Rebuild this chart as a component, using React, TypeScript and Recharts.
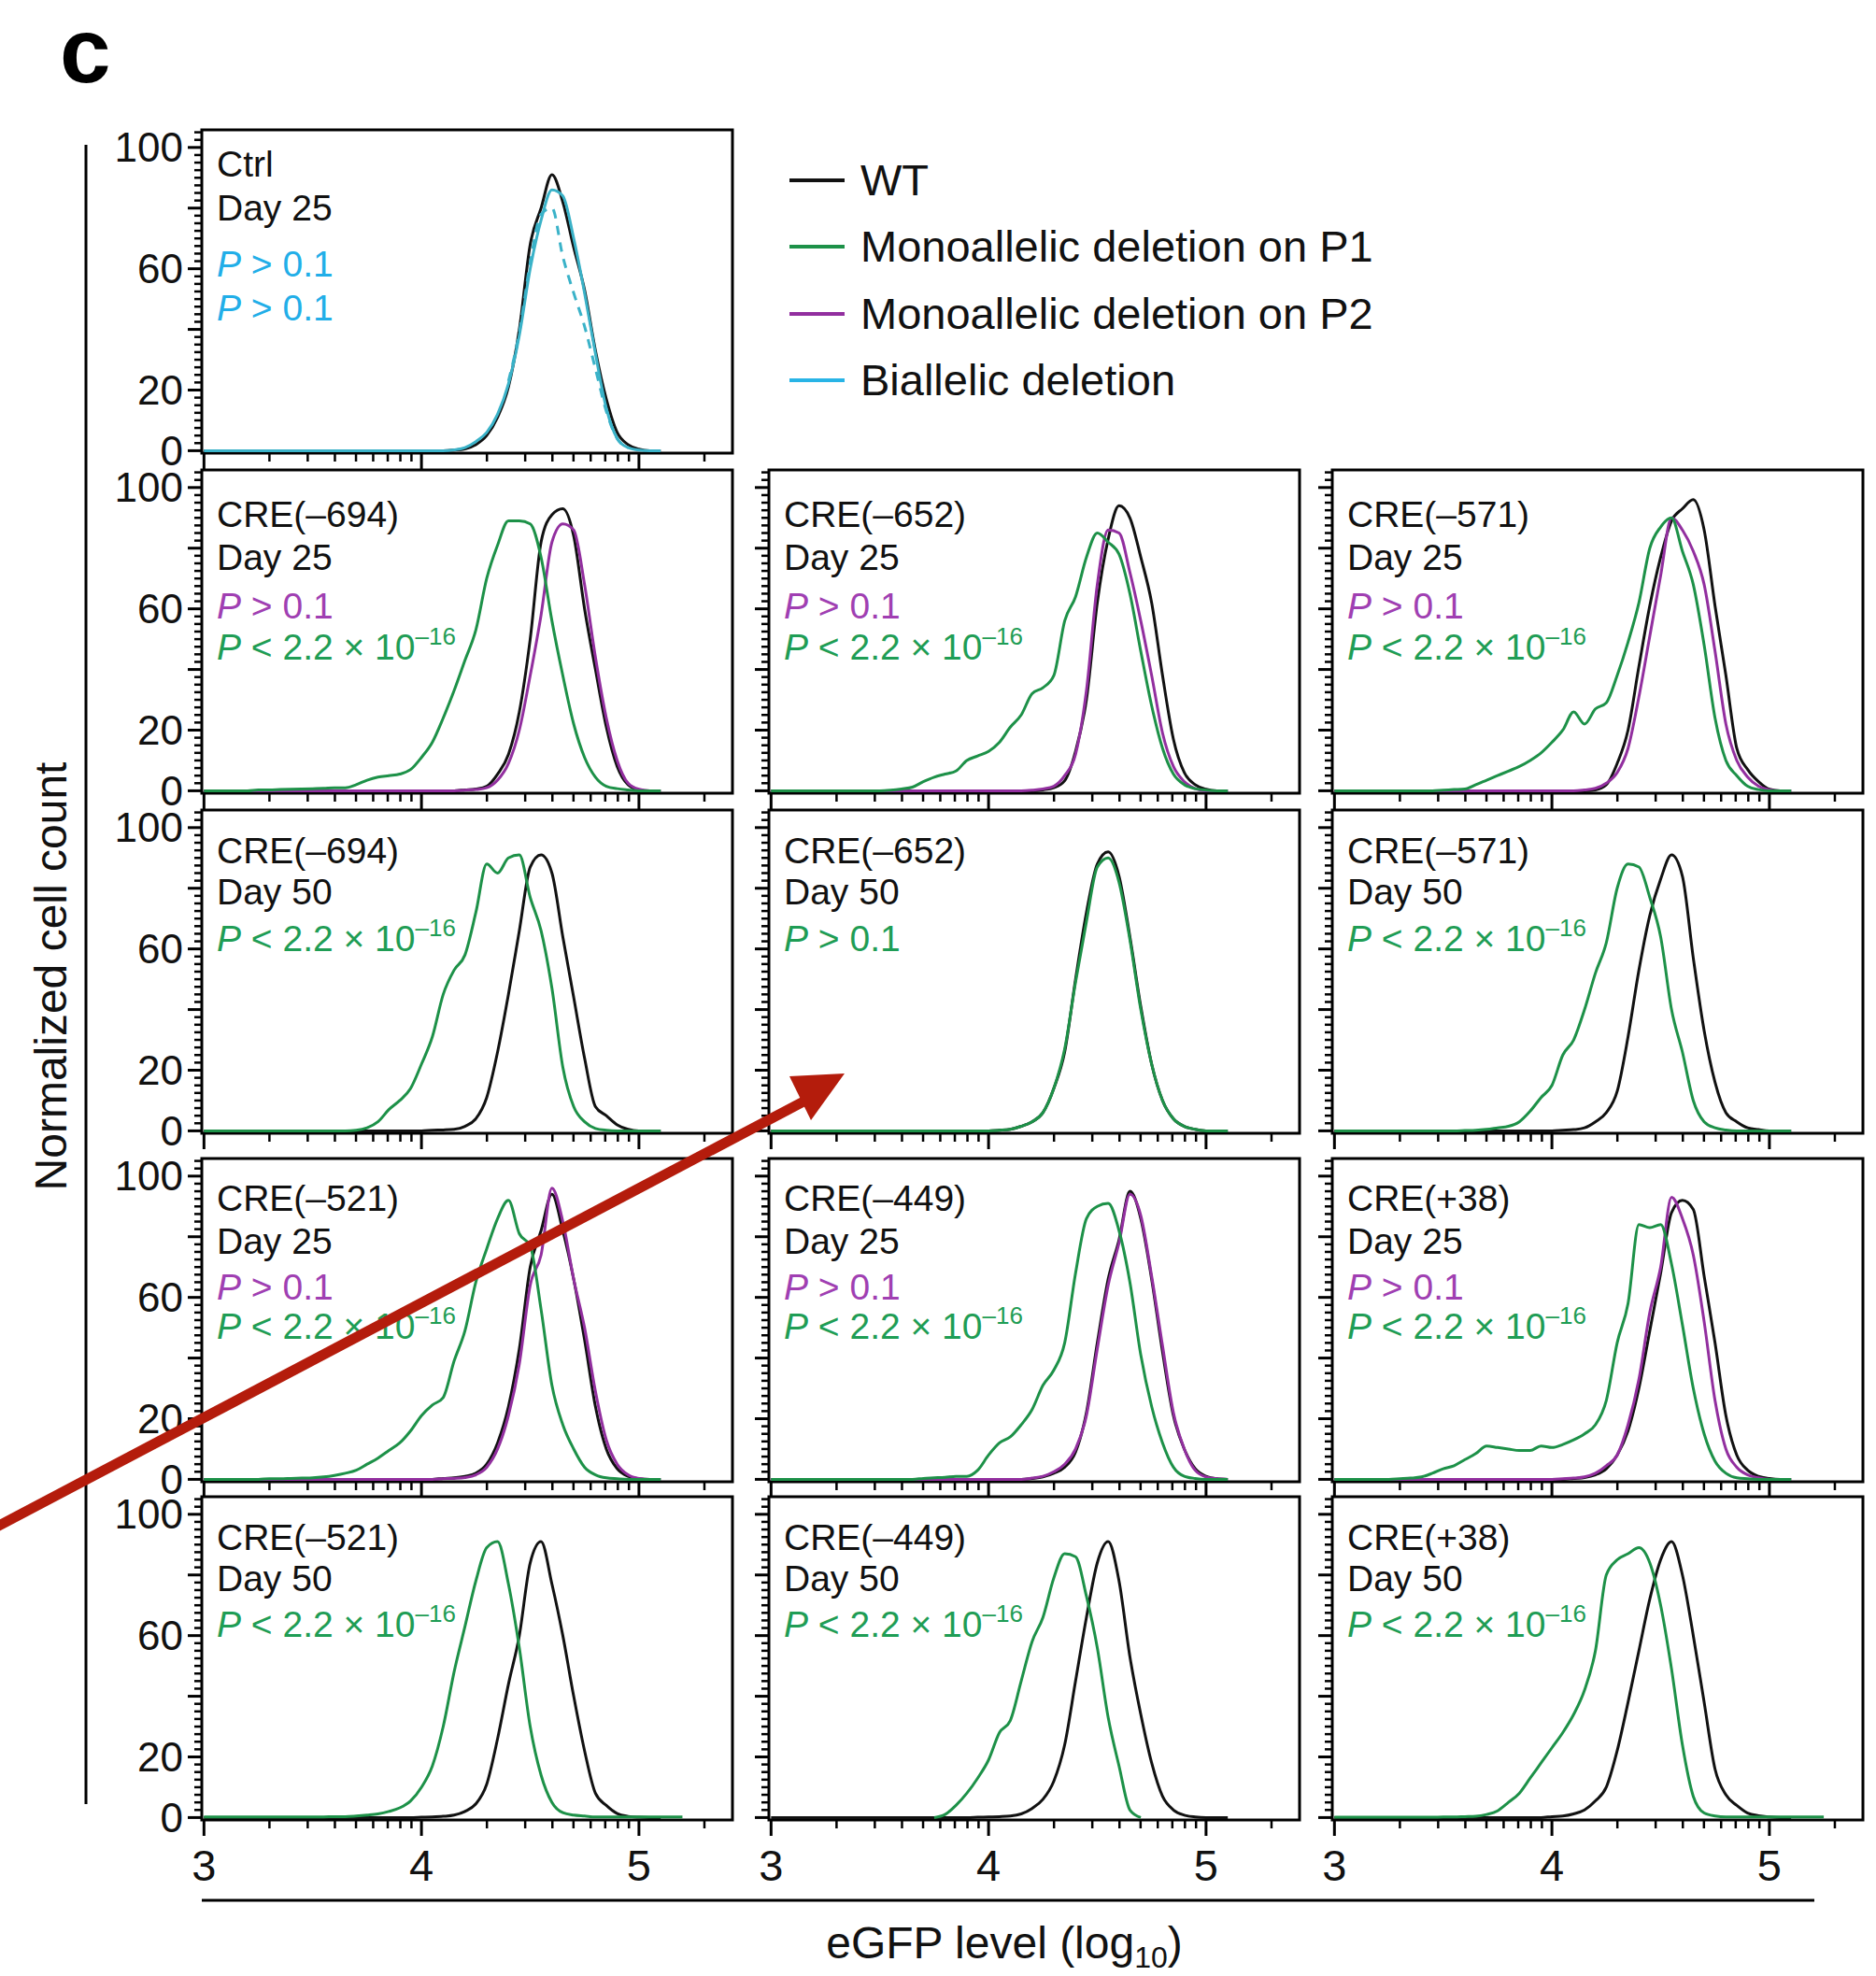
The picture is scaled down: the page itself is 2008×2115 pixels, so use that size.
import React from "react";
import { LineChart, Line, XAxis, YAxis, ReferenceArea } from "recharts";

// eGFP level (log10) grid shared by every histogram
const egfpGrid = [
  3.0, 3.05, 3.1, 3.15, 3.2, 3.25, 3.3, 3.35, 3.4, 3.45,
  3.5, 3.55, 3.6, 3.65, 3.7, 3.75, 3.8, 3.85, 3.9, 3.95,
  4.0, 4.05, 4.1, 4.15, 4.2, 4.25, 4.3, 4.35, 4.4, 4.45,
  4.5, 4.55, 4.6, 4.65, 4.7, 4.75, 4.8, 4.85, 4.9, 4.95,
  5.0, 5.05, 5.1, 5.15, 5.2, 5.25,
];

// axis ticks
const xMajorTicks = [3, 4, 5];
const xTicks = [
  3, 3.301, 3.477, 3.602, 3.699, 3.778, 3.845, 3.903, 3.954,
  4, 4.301, 4.477, 4.602, 4.699, 4.778, 4.845, 4.903, 4.954,
  5, 5.301,
];
const xTickLabels = [3, 4, 5];
const yMajorTicks = [0, 20, 40, 60, 80, 100];
const yTickLabels = [0, 20, 60, 100];
const yTicks = [
  0, 2.5, 5, 7.5, 10, 12.5, 15, 17.5, 20, 22.5, 25, 27.5, 30, 32.5, 35, 37.5,
  40, 42.5, 45, 47.5, 50, 52.5, 55, 57.5, 60, 62.5, 65, 67.5, 70, 72.5, 75,
  77.5, 80, 82.5, 85, 87.5, 90, 92.5, 95, 97.5, 100, 102.5, 105,
];

// ---- normalized cell counts ----
const ctrlD25Wt = [
  0, 0, 0, 0, 0, 0, 0, 0, 0, 0,
  0, 0, 0, 0, 0, 0, 0, 0, 0, 0,
  0, 0, 0, 0.2, 0.6, 2, 5, 11, 21, 40,
  68, 80, 91, 82, 67, 53, 33, 17, 6, 2,
  0.5, 0, 0, null, null, null,
];
const ctrlD25Bi = [
  0, 0, 0, 0, 0, 0, 0, 0, 0, 0,
  0, 0, 0, 0, 0, 0, 0, 0, 0, 0,
  0, 0, 0, 0.3, 1, 3, 6, 12, 22, 38,
  60, 76, 86, 84, 70, 52, 32, 14, 4, 1,
  0.2, 0, 0, null, null, null,
];
const ctrlD25Bi2 = [
  null, null, null, null, null, null, null, null, null, null,
  null, null, null, null, null, null, null, null, null, null,
  null, null, null, null, null, null, null, null, 23, 39,
  62, 78, 80, 64, 52, 41, 27, 13, 4, 1,
  null, null, null, null, null, null,
];

const c694D25Wt = [
  0, 0, 0, 0, 0, 0, 0, 0, 0, 0,
  0, 0, 0, 0, 0, 0, 0, 0, 0, 0,
  0, 0, 0, 0, 0.3, 0.6, 1.5, 5.5, 12, 26,
  50, 82, 91, 93, 84, 60, 40, 21, 8, 2,
  0.3, 0, 0, null, null, null,
];
const c694D25P2 = [
  0, 0, 0, 0, 0, 0, 0, 0, 0, 0,
  0, 0, 0, 0, 0, 0, 0, 0, 0, 0,
  0, 0, 0, 0, 0.2, 0.4, 1, 3.5, 9, 20,
  38, 58, 82, 88, 86, 68, 44, 24, 10, 2.5,
  0.5, 0, 0, null, null, null,
];
const c694D25P1 = [
  0, 0, 0, 0, 0, 0.3, 0.3, 0.4, 0.5, 0.6,
  0.7, 0.8, 1, 1, 2, 3.5, 4.5, 5, 5.5, 7,
  11, 16, 24, 33, 43, 53, 70, 81, 89, 89,
  88, 77, 56, 38, 22, 11, 4.5, 1.5, 0.7, 0.3,
  0, 0, 0, null, null, null,
];

const c652D25Wt = [
  0, 0, 0, 0, 0, 0, 0, 0, 0, 0,
  0, 0, 0, 0, 0, 0, 0, 0, 0, 0,
  0, 0, 0, 0, 0, 0.3, 1, 3.3, 13, 30,
  62, 83, 94, 90, 77, 62, 38, 17, 6, 2,
  0.5, 0, 0, null, null, null,
];
const c652D25P2 = [
  0, 0, 0, 0, 0, 0, 0, 0, 0, 0,
  0, 0, 0, 0, 0, 0, 0, 0, 0, 0,
  0, 0, 0, 0, 0.2, 0.6, 1.5, 5, 12, 33,
  68, 86, 85, 72, 56, 38, 19, 8, 3, 0.7,
  0, 0, 0, null, null, null,
];
const c652D25P1 = [
  0, 0, 0, 0, 0, 0, 0, 0, 0, 0,
  0, 0.2, 0.6, 1.2, 3, 4.5, 5.5, 6.5, 10, 11.5,
  13, 16, 21, 25, 32, 34, 38, 56, 64, 77,
  85, 82, 78, 65, 46, 28, 14, 5.5, 2, 0.7,
  0.2, 0, 0, null, null, null,
];

const c571D25Wt = [
  0, 0, 0, 0, 0, 0, 0, 0, 0, 0,
  0, 0, 0, 0, 0, 0, 0, 0, 0, 0,
  0, 0, 0, 0, 0.3, 2, 9, 20, 41, 61,
  77, 89, 93, 96, 86, 61, 38, 14, 7, 3,
  0.5, 0, 0, null, null, null,
];
const c571D25P2 = [
  0, 0, 0, 0, 0, 0, 0, 0, 0, 0,
  0, 0, 0, 0, 0, 0, 0, 0, 0, 0,
  0, 0, 0, 0.3, 0.8, 2.5, 6, 14, 31, 51,
  71, 90, 86, 79, 68, 46, 22, 10, 4.5, 1.5,
  0.3, 0, 0, null, null, null,
];
const c571D25P1 = [
  0, 0, 0, 0, 0, 0, 0, 0, 0, 0,
  0.2, 0.4, 0.6, 2, 3.5, 5, 6.5, 8, 10, 12.5,
  16, 20, 26, 22, 27, 29, 38, 49, 62, 80,
  87, 90, 79, 68, 48, 24, 10, 5, 1.5, 0.4,
  0, 0, 0, null, null, null,
];

const c694D50Wt = [
  0, 0, 0, 0, 0, 0, 0, 0, 0, 0,
  0, 0, 0, 0, 0, 0, 0, 0, 0, 0,
  0, 0.2, 0.3, 0.5, 1.5, 4, 11, 26, 45, 66,
  87, 91, 85, 64, 44, 24, 8, 5, 2, 0.5,
  0, 0, 0, null, null, null,
];
const c694D50P1 = [
  0, 0, 0, 0, 0, 0, 0, 0, 0, 0,
  0, 0, 0, 0, 0.2, 1, 3, 7, 10, 14,
  22, 31, 45, 53, 58, 72, 88, 85, 90, 91,
  77, 66, 47, 21, 8, 3, 0.8, 0.2, 0, 0,
  0, 0, 0, null, null, null,
];

const c652D50Wt = [
  0, 0, 0, 0, 0, 0, 0, 0, 0, 0,
  0, 0, 0, 0, 0, 0, 0, 0, 0, 0,
  0, 0.2, 0.5, 1.5, 3, 6, 14, 26, 50, 72,
  88, 92, 84, 64, 41, 22, 10, 4, 1.5, 0.5,
  0, 0, 0, null, null, null,
];
const c652D50P1 = [
  0, 0, 0, 0, 0, 0, 0, 0, 0, 0,
  0, 0, 0, 0, 0, 0, 0, 0, 0, 0,
  0, 0.2, 0.5, 1.5, 3, 6, 14, 27, 49, 69,
  87, 90, 82, 63, 40, 22, 10, 4, 1.5, 0.5,
  0, 0, 0, null, null, null,
];

const c571D50Wt = [
  0, 0, 0, 0, 0, 0, 0, 0, 0, 0,
  0, 0, 0, 0, 0, 0, 0, 0, 0, 0,
  0, 0.2, 0.4, 1, 3, 6, 13, 31, 53, 71,
  83, 91, 84, 57, 33, 16, 6, 3, 1, 0.4,
  0, 0, 0, null, null, null,
];
const c571D50P1 = [
  0, 0, 0, 0, 0, 0, 0, 0, 0, 0,
  0, 0, 0.1, 0.2, 0.5, 1, 1.5, 3, 6.5, 11,
  15, 25, 30, 40, 52, 62, 80, 88, 87, 77,
  64, 40, 26, 10, 3, 1, 0.3, 0, 0, 0,
  0, 0, 0, null, null, null,
];

const c521D25Wt = [
  0, 0, 0, 0, 0, 0, 0, 0, 0, 0,
  0, 0, 0, 0, 0, 0, 0, 0, 0, 0,
  0, 0, 0.3, 0.5, 1, 2, 5, 12, 24, 43,
  70, 82, 94, 82, 66, 46, 24, 10, 3.5, 1,
  0.2, 0, 0, null, null, null,
];
const c521D25P2 = [
  0, 0, 0, 0, 0, 0, 0, 0, 0, 0,
  0, 0, 0, 0, 0, 0, 0, 0, 0, 0,
  0, 0, 0.2, 0.3, 0.6, 1.5, 4, 10, 21, 38,
  64, 74, 96, 85, 66, 50, 29, 13, 5, 1.5,
  0.3, 0, 0, null, null, null,
];
const c521D25P1 = [
  0, 0, 0, 0, 0, 0, 0.2, 0.2, 0.3, 0.4,
  0.5, 0.8, 1.3, 2, 3, 5, 7, 9.5, 12, 16,
  21, 24.5, 27, 39, 49, 65, 76, 86, 92, 81,
  77, 56, 31, 18, 10, 4, 1.5, 0.5, 0.2, 0,
  0, 0, 0, null, null, null,
];

const c449D25Wt = [
  0, 0, 0, 0, 0, 0, 0, 0, 0, 0,
  0, 0, 0, 0, 0, 0, 0, 0, 0, 0,
  0, 0, 0, 0, 0.3, 0.8, 2, 4, 9, 22,
  45, 66, 79, 95, 86, 66, 42, 21, 10, 3.5,
  1, 0.2, 0, null, null, null,
];
const c449D25P2 = [
  0, 0, 0, 0, 0, 0, 0, 0, 0, 0,
  0, 0, 0, 0, 0, 0, 0, 0, 0, 0,
  0, 0, 0, 0, 0.4, 1, 2.5, 5, 10, 21,
  43, 64, 78, 94, 87, 67, 44, 22, 10, 3,
  0.8, 0.2, 0, null, null, null,
];
const c449D25P1 = [
  0, 0, 0, 0, 0, 0, 0, 0, 0, 0,
  0, 0, 0, 0, 0.3, 0.5, 0.7, 1, 1, 3,
  8, 12, 14, 18, 23, 31, 36, 45, 68, 86,
  90, 91, 82, 65, 41, 24, 12, 4, 1, 0.3,
  0, 0, 0, null, null, null,
];

const c38D25Wt = [
  0, 0, 0, 0, 0, 0, 0, 0, 0, 0,
  0, 0, 0, 0, 0, 0, 0, 0, 0, 0,
  0, 0, 0.3, 0.6, 1.5, 3.5, 8, 16, 30, 49,
  68, 88, 92, 89, 67, 45, 21, 8, 3, 1,
  0.3, 0, 0, null, null, null,
];
const c38D25P2 = [
  0, 0, 0, 0, 0, 0, 0, 0, 0, 0,
  0, 0, 0, 0, 0, 0, 0, 0, 0, 0,
  0, 0.2, 0.4, 0.8, 2, 4.5, 8, 18, 33, 55,
  70, 93, 86, 74, 52, 26, 10, 4, 1.5, 0.5,
  0, 0, 0, null, null, null,
];
const c38D25P1 = [
  0, 0, 0, 0, 0, 0, 0.2, 0.4, 0.8, 2,
  3.5, 4.5, 6.5, 8.5, 11, 10.5, 10, 9.5, 9.5, 11,
  10.5, 11.5, 13, 15, 18, 26, 45, 58, 84, 83,
  84, 71, 51, 30, 15, 6, 2, 0.5, 0.2, 0,
  0, 0, 0, null, null, null,
];

const c521D50Wt = [
  0, 0, 0, 0, 0, 0, 0, 0, 0, 0,
  0, 0, 0, 0, 0, 0, 0, 0, 0, 0,
  0.1, 0.2, 0.4, 0.8, 2, 4.5, 11, 26, 44, 60,
  84, 91, 77, 60, 40, 22, 8, 4, 1.3, 0.4,
  0.1, 0, 0, null, null, null,
];
const c521D50P1 = [
  0.2, 0.2, 0.2, 0.2, 0.2, 0.2, 0.2, 0.2, 0.2, 0.2,
  0.2, 0.2, 0.3, 0.3, 0.5, 0.8, 1.2, 2, 3.2, 5.5,
  10, 17, 30, 48, 63, 78, 89, 91, 77, 56,
  30, 14, 5, 1.6, 0.8, 0.5, 0.2, 0.2, 0.2, 0.2,
  0.2, 0.2, 0.2, 0.2, 0.2, null,
];

const c449D50Wt = [
  0, 0, 0, 0, 0, 0, 0, 0, 0, 0,
  0, 0, 0, 0, 0, 0, 0, 0, 0, 0.1,
  0.2, 0.3, 0.5, 1.2, 3, 6, 12, 24, 45, 66,
  84, 91, 78, 53, 34, 18, 7, 2.5, 0.8, 0.2,
  0, 0, 0, null, null, null,
];
const c449D50P1 = [
  null, null, null, null, null, null, null, null, null, null,
  null, null, null, null, null, 0, 1, 4, 8, 13,
  19, 28, 32, 45, 58, 66, 79, 87, 86, 73,
  56, 33, 17, 2.5, 0, null, null, null, null, null,
  null, null, null, null, null, null,
];

const c38D50Wt = [
  0, 0, 0, 0, 0, 0, 0, 0, 0, 0,
  0, 0, 0, 0, 0, 0, 0, 0, 0, 0,
  0.3, 0.5, 1.2, 2.5, 5.5, 10, 22, 38, 55, 72,
  85, 91, 80, 60, 38, 16, 7.5, 4, 1.5, 0.6,
  0.2, 0, 0, null, null, null,
];
const c38D50P1 = [
  0.1, 0.1, 0.1, 0.1, 0.1, 0.1, 0.1, 0.1, 0.1, 0.1,
  0.2, 0.2, 0.3, 0.4, 1, 2.2, 5, 8, 13, 18,
  23, 28, 34, 42, 55, 80, 85, 87, 89, 84,
  70, 49, 24, 7, 1.5, 0.5, 0.2, 0.2, 0.2, 0.2,
  0.2, 0.2, 0.2, 0.2, 0.2, 0.2,
];

// colours
const WT = "#111111";
const GREEN = "#1d9148";
const PURPLE = "#922f9f";
const TEAL = "#3ab2c8";
const CYAN = "#28b4e6";
const GREEN_TXT = "#1f9d55";
const PURPLE_TXT = "#a03fb2";
const CYAN_TXT = "#22aee8";
const FONT = '"Liberation Sans", Arial, Helvetica, sans-serif';

// layout (px)
const colLefts = [216, 823, 1426];
const rowTops = [139, 503, 867, 1240, 1602];
const rowTextOffsets = [
  [50, 97, 157, 204],
  [61, 107, 159, 203],
  [57, 101, 151, 195],
  [56, 102, 151, 193],
  [57, 101, 150, 195],
];
const BOX_W = 568;
const BOX_H = 346;
const Y_AXIS_W = 150;
const X_AXIS_H = 80;
const PAD_TOP = 40;
const PAD_RIGHT = 4;
const X_DOMAIN: [number, number] = [2.99, 5.43];
const Y_DOMAIN: [number, number] = [-0.8, 105.8];

type Series = { key: string; values: (number | null)[]; color: string; dash?: string };
type Note = { kind: "gt" | "lt"; color: string };
type PanelDef = {
  row: number;
  col: number;
  title: string;
  day: string;
  notes: Note[];
  series: Series[];
};

const d25Notes: Note[] = [
  { kind: "gt", color: PURPLE_TXT },
  { kind: "lt", color: GREEN_TXT },
];
const d50Notes: Note[] = [{ kind: "lt", color: GREEN_TXT }];

const panels: PanelDef[] = [
  {
    row: 0, col: 0, title: "Ctrl", day: "Day 25",
    notes: [{ kind: "gt", color: CYAN_TXT }, { kind: "gt", color: CYAN_TXT }],
    series: [
      { key: "wt", values: ctrlD25Wt, color: WT },
      { key: "bi", values: ctrlD25Bi, color: TEAL },
      { key: "bi2", values: ctrlD25Bi2, color: TEAL, dash: "10 8" },
    ],
  },
  {
    row: 1, col: 0, title: "CRE(–694)", day: "Day 25", notes: d25Notes,
    series: [
      { key: "wt", values: c694D25Wt, color: WT },
      { key: "p2", values: c694D25P2, color: PURPLE },
      { key: "p1", values: c694D25P1, color: GREEN },
    ],
  },
  {
    row: 1, col: 1, title: "CRE(–652)", day: "Day 25", notes: d25Notes,
    series: [
      { key: "wt", values: c652D25Wt, color: WT },
      { key: "p2", values: c652D25P2, color: PURPLE },
      { key: "p1", values: c652D25P1, color: GREEN },
    ],
  },
  {
    row: 1, col: 2, title: "CRE(–571)", day: "Day 25", notes: d25Notes,
    series: [
      { key: "wt", values: c571D25Wt, color: WT },
      { key: "p2", values: c571D25P2, color: PURPLE },
      { key: "p1", values: c571D25P1, color: GREEN },
    ],
  },
  {
    row: 2, col: 0, title: "CRE(–694)", day: "Day 50", notes: d50Notes,
    series: [
      { key: "wt", values: c694D50Wt, color: WT },
      { key: "p1", values: c694D50P1, color: GREEN },
    ],
  },
  {
    row: 2, col: 1, title: "CRE(–652)", day: "Day 50",
    notes: [{ kind: "gt", color: GREEN_TXT }],
    series: [
      { key: "wt", values: c652D50Wt, color: WT },
      { key: "p1", values: c652D50P1, color: GREEN },
    ],
  },
  {
    row: 2, col: 2, title: "CRE(–571)", day: "Day 50", notes: d50Notes,
    series: [
      { key: "wt", values: c571D50Wt, color: WT },
      { key: "p1", values: c571D50P1, color: GREEN },
    ],
  },
  {
    row: 3, col: 0, title: "CRE(–521)", day: "Day 25", notes: d25Notes,
    series: [
      { key: "wt", values: c521D25Wt, color: WT },
      { key: "p2", values: c521D25P2, color: PURPLE },
      { key: "p1", values: c521D25P1, color: GREEN },
    ],
  },
  {
    row: 3, col: 1, title: "CRE(–449)", day: "Day 25", notes: d25Notes,
    series: [
      { key: "wt", values: c449D25Wt, color: WT },
      { key: "p2", values: c449D25P2, color: PURPLE },
      { key: "p1", values: c449D25P1, color: GREEN },
    ],
  },
  {
    row: 3, col: 2, title: "CRE(+38)", day: "Day 25", notes: d25Notes,
    series: [
      { key: "wt", values: c38D25Wt, color: WT },
      { key: "p2", values: c38D25P2, color: PURPLE },
      { key: "p1", values: c38D25P1, color: GREEN },
    ],
  },
  {
    row: 4, col: 0, title: "CRE(–521)", day: "Day 50", notes: d50Notes,
    series: [
      { key: "wt", values: c521D50Wt, color: WT },
      { key: "p1", values: c521D50P1, color: GREEN },
    ],
  },
  {
    row: 4, col: 1, title: "CRE(–449)", day: "Day 50", notes: d50Notes,
    series: [
      { key: "wt", values: c449D50Wt, color: WT },
      { key: "p1", values: c449D50P1, color: GREEN },
    ],
  },
  {
    row: 4, col: 2, title: "CRE(+38)", day: "Day 50", notes: d50Notes,
    series: [
      { key: "wt", values: c38D50Wt, color: WT },
      { key: "p1", values: c38D50P1, color: GREEN },
    ],
  },
];

const legendItems = [
  { label: "WT", color: WT },
  { label: "Monoallelic deletion on P1", color: GREEN },
  { label: "Monoallelic deletion on P2", color: PURPLE },
  { label: "Biallelic deletion", color: CYAN },
];
const legendRowsY = [193, 264, 336, 407];

const XTick = (props: any) => {
  const { x, y, payload, showLabel } = props;
  const v = payload.value;
  const major = xMajorTicks.includes(v);
  return (
    <g>
      <line x1={x} x2={x} y1={y} y2={y + (major ? 17 : 9)} stroke="#000" strokeWidth={major ? 3 : 2.5} />
      {showLabel && xTickLabels.includes(v) && (
        <text x={x} y={y + 65} textAnchor="middle" fontSize={47} fontFamily={FONT} fill="#111">
          {v}
        </text>
      )}
    </g>
  );
};

const YTick = (props: any) => {
  const { x, y, payload, showLabel } = props;
  const v = payload.value;
  const major = yMajorTicks.includes(v);
  return (
    <g>
      <line x1={x} x2={x - (major ? 15 : 8)} y1={y} y2={y} stroke="#000" strokeWidth={major ? 3 : 2.5} />
      {showLabel && yTickLabels.includes(v) && (
        <text x={x - 20} y={y} dy="0.35em" textAnchor="end" fontSize={44} fontFamily={FONT} fill="#111">
          {v}
        </text>
      )}
    </g>
  );
};

function Panel({ def }: { def: PanelDef }) {
  const left = colLefts[def.col];
  const top = rowTops[def.row];
  const data = egfpGrid.map((x, i) => {
    const row: Record<string, number | null> = { x };
    def.series.forEach((s) => {
      row[s.key] = s.values[i];
    });
    return row;
  });
  const isBottom = def.row === 4;
  const showY = def.col === 0;

  return (
    <div style={{ position: "absolute", left: left - Y_AXIS_W, top: top - PAD_TOP }}>
      <LineChart
        width={Y_AXIS_W + BOX_W + PAD_RIGHT}
        height={PAD_TOP + BOX_H + X_AXIS_H}
        data={data}
        margin={{ top: PAD_TOP, right: PAD_RIGHT, bottom: 0, left: 0 }}
      >
        <XAxis
          dataKey="x"
          type="number"
          domain={X_DOMAIN}
          allowDataOverflow
          ticks={xTicks}
          interval={0}
          height={X_AXIS_H}
          axisLine={false}
          tickLine={false}
          tickSize={0}
          tickMargin={0}
          tick={(p: any) => <XTick {...p} showLabel={isBottom} />}
        />
        <YAxis
          type="number"
          domain={Y_DOMAIN}
          allowDataOverflow
          ticks={yTicks}
          interval={0}
          width={Y_AXIS_W}
          axisLine={false}
          tickLine={false}
          tickSize={0}
          tickMargin={0}
          tick={(p: any) => <YTick {...p} showLabel={showY} />}
        />
        <ReferenceArea
          x1={X_DOMAIN[0]}
          x2={X_DOMAIN[1]}
          y1={Y_DOMAIN[0]}
          y2={Y_DOMAIN[1]}
          fill="none"
          fillOpacity={0}
          stroke="#000"
          strokeWidth={3}
        />
        {def.series.map((s) => (
          <Line
            key={s.key}
            type="monotone"
            dataKey={s.key}
            stroke={s.color}
            strokeWidth={3}
            strokeDasharray={s.dash}
            dot={false}
            activeDot={false}
            connectNulls={false}
            isAnimationActive={false}
          />
        ))}
      </LineChart>
    </div>
  );
}

function NoteText({ x, y, note }: { x: number; y: number; note: Note }) {
  if (note.kind === "gt") {
    return (
      <text x={x} y={y} fill={note.color} fontSize={39} fontFamily={FONT} style={{ whiteSpace: "pre" }}>
        <tspan fontStyle="italic">P</tspan>
        {" > 0.1"}
      </text>
    );
  }
  return (
    <text x={x} y={y} fill={note.color} fontSize={39} fontFamily={FONT} style={{ whiteSpace: "pre" }}>
      <tspan fontStyle="italic">P</tspan>
      {" < 2.2 × 10"}
      <tspan dy={-16} fontSize={26}>
        –16
      </tspan>
    </text>
  );
}

export default function App() {
  return (
    <div
      style={{
        position: "absolute",
        left: 0,
        top: 0,
        width: 2008,
        height: 2115,
        background: "#fff",
        overflow: "hidden",
        fontFamily: FONT,
      }}
    >
      {panels.map((p, i) => (
        <Panel key={i} def={p} />
      ))}

      <svg
        width={2008}
        height={2115}
        style={{ position: "absolute", left: 0, top: 0, pointerEvents: "none" }}
        fontFamily={FONT}
      >
        {/* panel letter */}
        <text x={64} y={88} fontSize={98} fontWeight="bold" fill="#000">
          c
        </text>

        {/* panel annotations */}
        {panels.map((p, i) => {
          const x = colLefts[p.col] + 16;
          const offs = rowTextOffsets[p.row];
          const top = rowTops[p.row];
          return (
            <g key={i}>
              <text x={x} y={top + offs[0]} fontSize={39} fill="#111">
                {p.title}
              </text>
              <text x={x} y={top + offs[1]} fontSize={39} fill="#111">
                {p.day}
              </text>
              {p.notes.map((n, j) => (
                <NoteText key={j} x={x} y={top + offs[2 + j]} note={n} />
              ))}
            </g>
          );
        })}

        {/* legend */}
        {legendItems.map((item, i) => (
          <g key={item.label}>
            <line x1={845} x2={904} y1={legendRowsY[i]} y2={legendRowsY[i]} stroke={item.color} strokeWidth={4} />
            <text x={921} y={legendRowsY[i]} dy="0.35em" fontSize={47} fill="#111">
              {item.label}
            </text>
          </g>
        ))}

        {/* shared axis titles */}
        <line x1={92} x2={92} y1={155} y2={1931} stroke="#000" strokeWidth={3} />
        <text
          x={54}
          y={1045}
          fontSize={48}
          fill="#111"
          textAnchor="middle"
          dominantBaseline="central"
          transform="rotate(-90 54 1045)"
        >
          Normalized cell count
        </text>
        <line x1={216} x2={1942} y1={2034} y2={2034} stroke="#000" strokeWidth={3} />
        <text x={1075} y={2096} fontSize={48} fill="#111" textAnchor="middle">
          eGFP level (log
          <tspan dy={10} fontSize={32}>
            10
          </tspan>
          <tspan dy={-10}>)</tspan>
        </text>

        {/* red arrow annotation */}
        <line x1={-5} y1={1635} x2={862} y2={1178} stroke="#b41c0c" strokeWidth={11} />
        <polygon points="845,1152 904,1149 868,1199" fill="#b41c0c" />
      </svg>
    </div>
  );
}
